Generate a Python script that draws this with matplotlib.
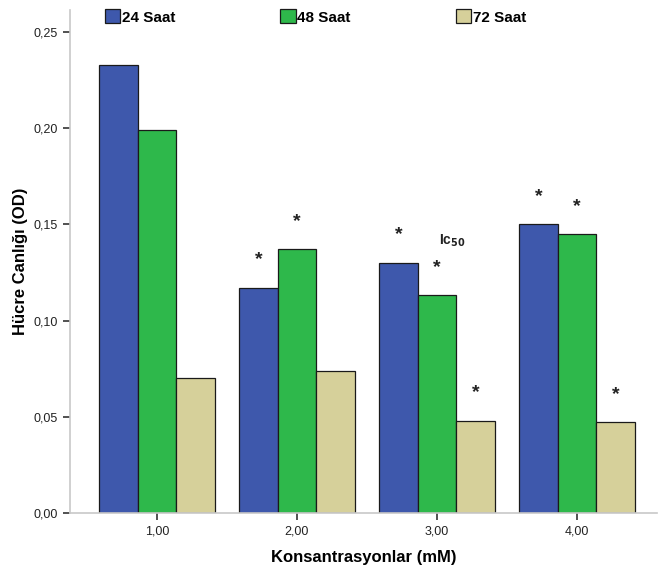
import matplotlib.pyplot as plt
import numpy as np

plt.rcParams['font.family'] = ['Liberation Sans', 'DejaVu Sans']

# ------- data
konsantrasyon = [1.0, 2.0, 3.0, 4.0]
x_labels = ['1,00', '2,00', '3,00', '4,00']
seriler = ['24 Saat', '48 Saat', '72 Saat']
od_24 = [0.233, 0.117, 0.130, 0.150]
od_48 = [0.199, 0.137, 0.113, 0.145]
od_72 = [0.070, 0.074, 0.048, 0.047]
# significance marks (True = '*')
sig_24 = [False, True, True, True]
sig_48 = [False, True, True, True]
sig_72 = [False, False, True, True]
y_ticks = [0.0, 0.05, 0.10, 0.15, 0.20, 0.25]

renkler = ['#3E58AC', '#2EB84B', '#D6D09A']

# ------- plotting
fig = plt.figure(figsize=(6.6, 5.75), dpi=100)
ax = fig.add_axes([0.106, 0.108, 0.889, 0.875])

x = np.array(konsantrasyon)
w = 0.275
degerler = [od_24, od_48, od_72]
isaretler = [sig_24, sig_48, sig_72]
for i, (vals, sig) in enumerate(zip(degerler, isaretler)):
    pos = x + (i - 1) * w
    ax.bar(pos, vals, width=w, color=renkler[i], edgecolor='#1a1a1a',
           linewidth=0.9, label=seriler[i], zorder=2)
    for p, v, s in zip(pos, vals, sig):
        if s:
            ax.text(p, v + 0.010, '*', ha='center', va='bottom',
                    fontsize=14, fontweight='bold', color='#222222')

ax.text(3.11, 0.137, r'Ic$_{\mathbf{50}}$', fontsize=10, fontweight='bold',
        ha='center', va='bottom', color='#222222')

ax.set_xlim(0.38, 4.57)
ax.set_ylim(0, 0.2615)
ax.set_xticks(x)
ax.set_xticklabels(x_labels)
ax.set_yticks(y_ticks)
ax.set_yticklabels([('%.2f' % t).replace('.', ',') for t in y_ticks])
ax.tick_params(axis='both', labelsize=9, length=5, width=1.2,
               color='#333333', labelcolor='#222222')
ax.tick_params(axis='x', pad=4)

for s in ['top', 'right']:
    ax.spines[s].set_visible(False)
for s in ['left', 'bottom']:
    ax.spines[s].set_color('#c8c8c8')
    ax.spines[s].set_linewidth(1.2)

ax.set_xlabel('Konsantrasyonlar (mM)', fontsize=12, fontweight='bold', labelpad=9)
ax.set_ylabel('Hücre Canlığı (OD)', fontsize=12, fontweight='bold', labelpad=4)

leg = ax.legend(ncol=3, loc='upper left', bbox_to_anchor=(0.036, 1.028),
                frameon=False, handlelength=1.0, handleheight=1.0,
                handletextpad=0.1, columnspacing=6.9,
                prop={'weight': 'bold', 'size': 11})

fig.savefig('out.png', dpi=100)
